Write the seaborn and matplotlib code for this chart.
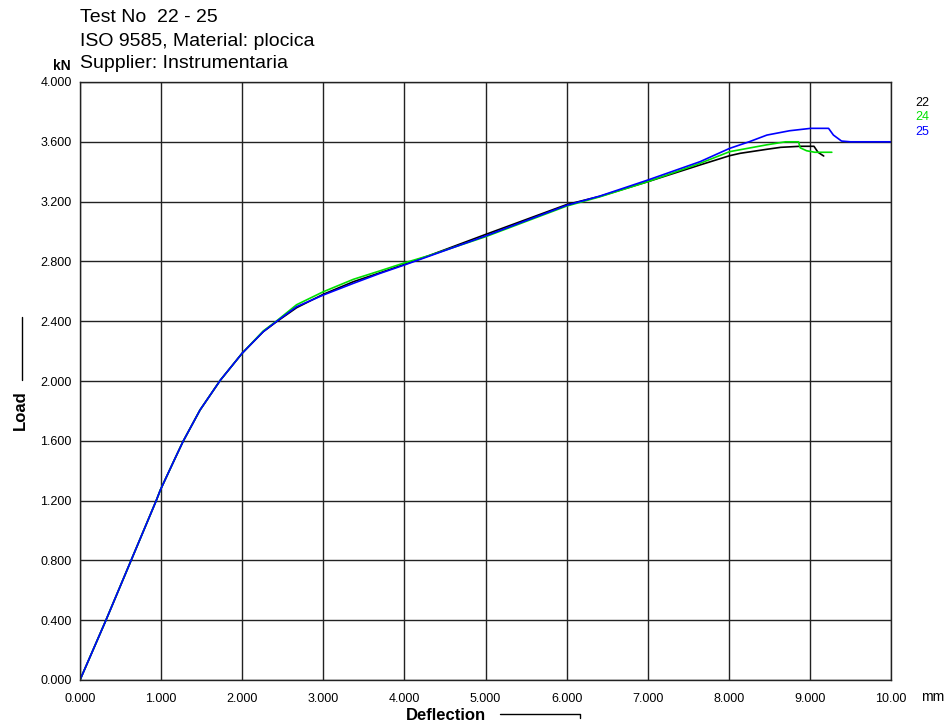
import pandas as pd
import matplotlib
matplotlib.use("Agg")
import matplotlib.pyplot as plt
import seaborn as sns

# Deflection (mm) / load (kN) readings for each test
x_22 = [0.0, 0.32, 0.63, 0.94, 0.99, 1.17, 1.27, 1.48, 1.73, 2.0, 2.26, 2.42, 2.67, 3.0, 3.37, 3.70, 4.0,
        4.31, 5.0, 6.0, 6.41, 7.0, 7.645, 8.01, 8.14, 8.47, 8.64, 8.88, 9.05, 9.1, 9.17]
y_22 = [0.0, 0.40, 0.80, 1.20, 1.27, 1.48, 1.595, 1.806, 2.005, 2.186, 2.33, 2.395, 2.49, 2.58, 2.664, 2.724, 2.78,
        2.84, 2.98, 3.18, 3.235, 3.333, 3.445, 3.507, 3.523, 3.55, 3.563, 3.57, 3.57, 3.53, 3.505]

x_24 = [0.0, 0.32, 0.63, 0.94, 0.99, 1.17, 1.27, 1.48, 1.73, 2.0, 2.26, 2.42, 2.67, 3.0, 3.37, 3.70, 4.0,
        4.31, 5.0, 6.0, 6.41, 7.0, 7.645, 8.01, 8.47, 8.7, 8.86, 8.88, 8.96, 9.06, 9.27]
y_24 = [0.0, 0.40, 0.80, 1.20, 1.27, 1.48, 1.595, 1.806, 2.005, 2.186, 2.335, 2.40, 2.51, 2.597, 2.68, 2.737, 2.79,
        2.84, 2.965, 3.17, 3.232, 3.333, 3.456, 3.534, 3.58, 3.60, 3.60, 3.56, 3.54, 3.53, 3.53]

x_25 = [0.0, 0.32, 0.63, 0.94, 0.99, 1.17, 1.27, 1.48, 1.73, 2.0, 2.26, 2.42, 2.67, 3.0, 3.37, 3.70, 4.0,
        4.31, 5.0, 6.0, 6.41, 7.0, 7.645, 8.01, 8.25, 8.47, 8.75, 9.01, 9.23, 9.29, 9.39, 9.5, 10.0]
y_25 = [0.0, 0.40, 0.80, 1.20, 1.27, 1.48, 1.595, 1.806, 2.005, 2.186, 2.33, 2.397, 2.497, 2.575, 2.653, 2.72, 2.776,
        2.836, 2.97, 3.175, 3.237, 3.344, 3.467, 3.556, 3.60, 3.645, 3.674, 3.69, 3.69, 3.645, 3.605, 3.60, 3.60]

tests = ["22", "24", "25"]
colors = ["black", "#00e000", "blue"]

x_ticks = [0, 1, 2, 3, 4, 5, 6, 7, 8, 9, 10]
x_labels = ["0.000", "1.000", "2.000", "3.000", "4.000", "5.000", "6.000", "7.000", "8.000", "9.000", "10.00"]
y_ticks = [0, 0.4, 0.8, 1.2, 1.6, 2.0, 2.4, 2.8, 3.2, 3.6, 4.0]
y_labels = ["0.000", "0.400", "0.800", "1.200", "1.600", "2.000", "2.400", "2.800", "3.200", "3.600", "4.000"]

sns.set_style("white")
plt.rcParams['font.family'] = ['Liberation Sans', 'DejaVu Sans']
plt.rcParams['text.color'] = 'black'
plt.rcParams['xtick.color'] = 'black'
plt.rcParams['ytick.color'] = 'black'

W, H = 949, 726
fig = plt.figure(figsize=(W / 100, H / 100), dpi=100)
ax = fig.add_axes([80 / W, 1 - 680 / H, (891 - 80) / W, (680 - 82) / H])

frames = []
for name, xs, ys in [("22", x_22, y_22), ("24", x_24, y_24), ("25", x_25, y_25)]:
    frames.append(pd.DataFrame({"Deflection": xs, "Load": ys, "Test": name}))
df = pd.concat(frames, ignore_index=True)

sns.lineplot(data=df, x="Deflection", y="Load", hue="Test", hue_order=tests,
             palette=colors, sort=False, linewidth=1.2, legend=False, ax=ax)

ax.set_xlim(0, 10)
ax.set_ylim(0, 4)
ax.set_xticks(x_ticks)
ax.set_yticks(y_ticks)
narrow = ['Liberation Sans Narrow', 'Liberation Sans']
ax.set_xticklabels(x_labels, fontsize=9, family=narrow)
ax.set_yticklabels(y_labels, fontsize=9, family=narrow)
ax.tick_params(axis="x", length=0, pad=9)
ax.tick_params(axis="y", length=0, pad=6)
ax.grid(True, color="#222222", linewidth=1)
for s in ax.spines.values():
    s.set_color("#222222")
    s.set_linewidth(1)
ax.set_xlabel("")
ax.set_ylabel("")


def px(x, y):
    return x / W, 1 - y / H


# header
fig.text(*px(80, 18), "Test No  22 - 25", fontsize=14, va="center", ha="left")
fig.text(*px(80, 42), "ISO 9585, Material: plocica", fontsize=14, va="center", ha="left")
fig.text(*px(80, 64), "Supplier: Instrumentaria", fontsize=14, va="center", ha="left")
fig.text(*px(71, 66), "kN", fontsize=10, fontweight="bold", va="center", ha="right")
fig.text(*px(933, 697), "mm", fontsize=10, va="center", ha="center")

# axis titles with trailing rule
fig.text(*px(20, 410), "Load", fontsize=12, fontweight="bold", rotation=90, va="center", ha="center")
fig.add_artist(plt.Line2D([22 / W, 22 / W], [1 - 380 / H, 1 - 317 / H], color="black", linewidth=1))
fig.text(*px(446, 716), "Deflection", fontsize=12, fontweight="bold", va="center", ha="center")
fig.add_artist(plt.Line2D([500 / W, 580 / W, 580 / W], [1 - 714 / H, 1 - 714 / H, 1 - 718 / H],
                          color="black", linewidth=1))

# test labels at right
for i, (t, c) in enumerate(zip(tests, colors)):
    fig.text(*px(922, 103 + 14.5 * i), t, fontsize=9, color=c, va="center", ha="center")

fig.savefig("out.png", dpi=100, facecolor="white")
